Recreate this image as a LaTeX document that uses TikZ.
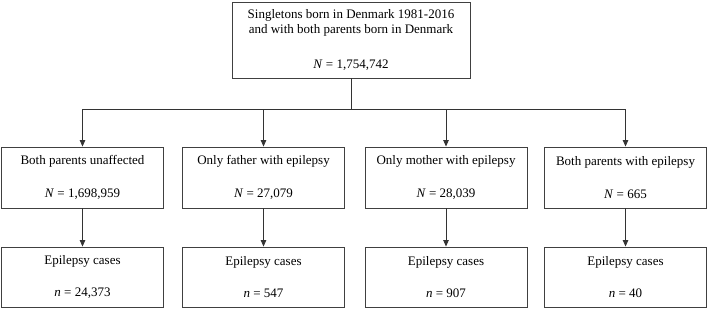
\documentclass[tikz,border=0pt]{standalone}
\usepackage{fontspec}
\setmainfont{Liberation Serif}
\usetikzlibrary{arrows.meta, positioning}

\begin{document}
\begin{tikzpicture}[x=1pt, y=-1pt,
  box/.style={draw=black!75, line width=0.9pt, align=center, inner sep=2pt,
    font=\fontsize{13}{15}\selectfont},
  grpbox/.style={box, minimum width=162pt, minimum height=61pt},
  casebox/.style={box, minimum width=162pt, minimum height=60pt},
  arr/.style={draw=black!80, line width=0.8pt, -{Triangle[width=5.5pt,length=6.5pt]}}]
\useasboundingbox (0,0) rectangle (709,308);

% Cohort
\node[box, minimum width=238pt, minimum height=76pt] (cohort) at (351,40)
  {Singletons born in Denmark 1981-2016\\and with both parents born in Denmark\\[20pt]\textit{N} = 1,754,742};

\coordinate (split) at (351,109);

% Parental groups and their cases
\foreach \i/\xc/\grp/\NN/\nn in {1/82.5/{Both parents unaffected}/{1,698,959}/{24,373},
    2/263.5/{Only father with epilepsy}/{27,079}/{547},
    3/446/{Only mother with epilepsy}/{28,039}/{907},
    4/625.5/{Both parents with epilepsy}/{665}/{40}}{
  \node[grpbox] (grp\i) at (\xc,177.5) {\grp\\[18pt]\textit{N} = \NN};
  \node[casebox] (cases\i) at (\xc,277) {Epilepsy cases\\[17pt]\textit{n} = \nn};
  \draw[arr] (cohort.south) -- (split) -| (grp\i.north);
  \draw[arr] (grp\i) -- (cases\i);
}

\end{tikzpicture}
\end{document}
